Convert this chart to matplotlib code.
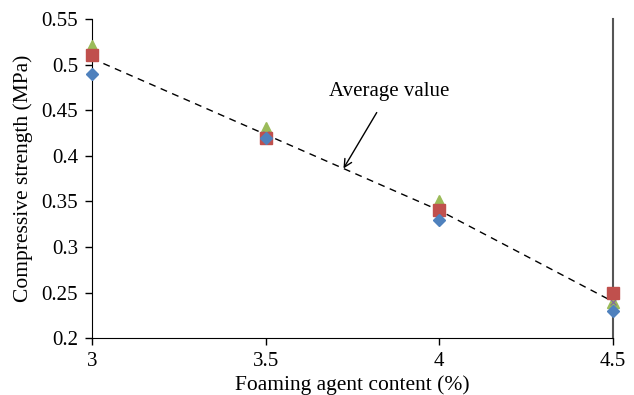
import matplotlib
matplotlib.use("Agg")
import matplotlib.pyplot as plt
import numpy as np

plt.rcParams['font.family'] = ['Liberation Serif', 'DejaVu Serif']

content = [3, 3.5, 4, 4.5]
series_blue = [0.49, 0.42, 0.33, 0.23]
series_red = [0.51, 0.42, 0.34, 0.25]
series_green = [0.52, 0.43, 0.35, 0.24]
average = list(np.mean([series_blue, series_red, series_green], axis=0))

fig = plt.figure(figsize=(6.34, 3.95), dpi=100)
ax = fig.add_axes([0.145, 0.144, 0.822, 0.808])

ax.plot(content, average, linestyle=(0, (5, 4)), color='black', linewidth=1.0, zorder=2)
ax.plot(content, series_green, linestyle='none', marker='^', markersize=8.5, color='#9BBB59', zorder=3, clip_on=False)
ax.plot(content, series_red, linestyle='none', marker='s', markersize=8, color='#C0504D', zorder=4, clip_on=False)
ax.plot(content, average, linestyle='none', marker='x', markersize=4, color='#8064A2', markeredgewidth=0.8, zorder=3.5, clip_on=False)
ax.plot(content, series_blue, linestyle='none', marker='D', markersize=6, color='#4F81BD', zorder=5, clip_on=False)

ax.annotate('Average value', xy=(3.724, 0.386), xytext=(3.855, 0.47),
            ha='center', va='center', fontsize=15,
            arrowprops=dict(arrowstyle='->', color='black', lw=1.0, mutation_scale=14,
                            shrinkA=7, shrinkB=0))

ax.set_xlim(3, 4.5)
ax.set_ylim(0.2, 0.55)
ax.set_xticks([3, 3.5, 4, 4.5])
ax.set_xticklabels(['3', '3.5', '4', '4.5'])
ax.set_yticks([0.2, 0.25, 0.3, 0.35, 0.4, 0.45, 0.5, 0.55])
ax.set_yticklabels(['0.2', '0.25', '0.3', '0.35', '0.4', '0.45', '0.5', '0.55'])
ax.tick_params(direction='out', length=5, width=1, labelsize=15, pad=5)
ax.spines['top'].set_visible(False)
ax.spines['right'].set_color('#555555')
ax.spines['right'].set_linewidth(1.5)
ax.set_xlabel('Foaming agent content (%)', fontsize=15.5, labelpad=3)
ax.set_ylabel('Compressive strength (MPa)', fontsize=15.5, labelpad=6)

fig.savefig('out.png', dpi=100)
